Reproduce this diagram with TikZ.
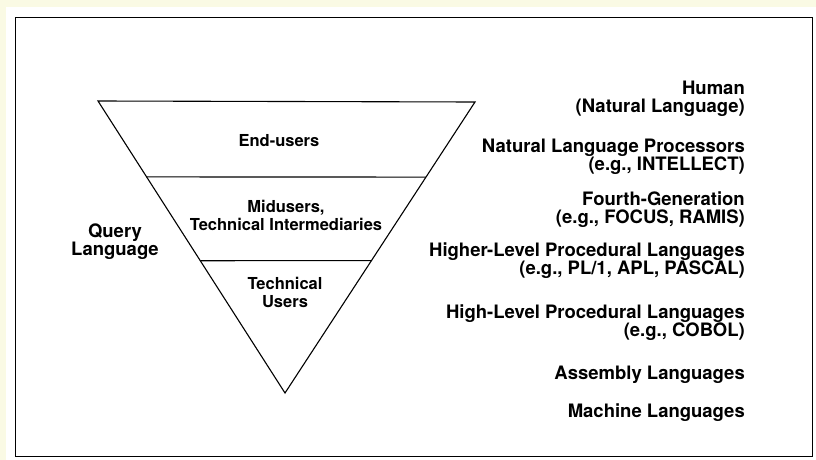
\documentclass[tikz,border=0pt]{standalone}
\usepackage{fontspec}
\setmainfont{TeX Gyre Heros}
\usetikzlibrary{calc}
\definecolor{cream}{RGB}{250,250,228}
\begin{document}
\begin{tikzpicture}[x=1pt,y=-1pt,
  txt/.style={font=\bfseries\fontsize{18.5}{18}\selectfont, inner sep=0pt},
  lbl/.style={txt, align=center},
  tlbl/.style={font=\bfseries\fontsize{16.5}{18}\selectfont, inner sep=0pt, align=center},
  rlbl/.style={txt, align=right, anchor=east},
  edge/.style={line width=1.1pt, black}]
\useasboundingbox (0,0) rectangle (816,460);
\fill[cream] (0,0) rectangle (816,460);
\fill[white] (6,7) rectangle (816,460);
\draw[line width=0.9pt] (15,17) rectangle (812,456);
% triangle
\coordinate (tl) at (98,101);
\coordinate (tr) at (475,102);
\coordinate (ap) at (285,393);
\draw[edge, line join=miter] (tl) -- (tr) -- (ap) -- cycle;
\coordinate (d1l) at ($(tl)!0.26!(ap)$);
\coordinate (d1r) at ($(tr)!0.258!(ap)$);
\coordinate (d2l) at ($(tl)!0.547!(ap)$);
\coordinate (d2r) at ($(tr)!0.545!(ap)$);
\draw[edge] (d1l) -- (d1r);
\draw[edge] (d2l) -- (d2r);
\node[tlbl] (end) at (279,141) {End-users};
\node[tlbl] (mid) at (286,215) {Midusers,\\Technical Intermediaries};
\node[tlbl] (tech) at (285,292) {Technical\\Users};
\node[lbl] (ql) at (115,242) {Query\\Language};
% right column
\node[rlbl] (h) at (745,99) {Human\\(Natural Language)};
\node[rlbl] (nlp) at (745,157) {Natural Language Processors\\(e.g., INTELLECT)};
\node[rlbl] (fg) at (745,210) {Fourth-Generation\\(e.g., FOCUS, RAMIS)};
\node[rlbl] (hl) at (745,261) {Higher-Level Procedural Languages\\(e.g., PL/1, APL, PASCAL)};
\node[rlbl] (hp) at (745,323) {High-Level Procedural Languages\\(e.g., COBOL)};
\node[rlbl] (as) at (745,375) {Assembly Languages};
\node[rlbl] (ml) at (745,413) {Machine Languages};
\end{tikzpicture}
\end{document}
